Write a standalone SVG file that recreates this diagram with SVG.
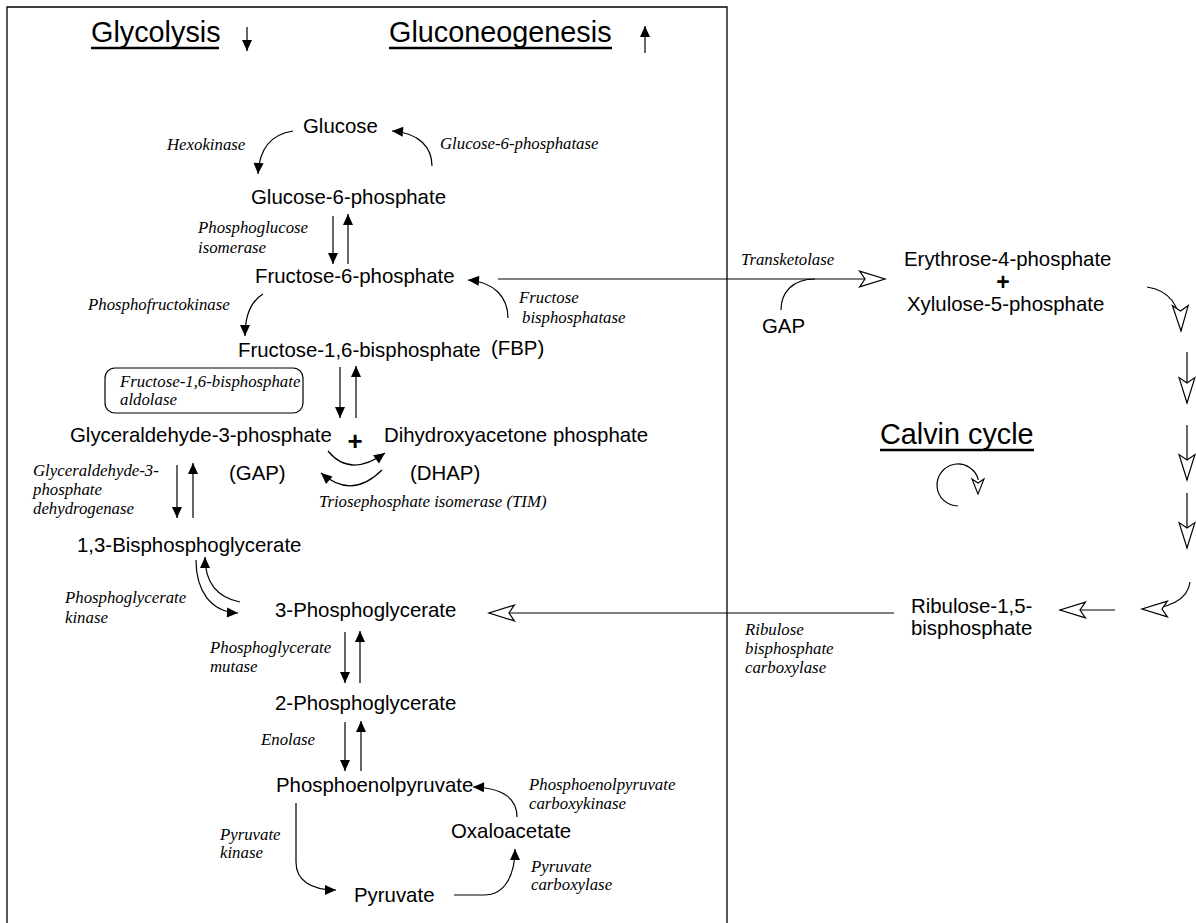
<svg xmlns="http://www.w3.org/2000/svg" width="1196" height="923" viewBox="0 0 1196 923">
<style>
.n{font-family:"Liberation Sans",Arial,sans-serif;font-size:20.4px;fill:#000}
.e{font-family:"Liberation Serif","Times New Roman",serif;font-style:italic;font-size:16.8px;fill:#000}
.t{font-family:"Liberation Sans",Arial,sans-serif;font-size:28.8px;fill:#000}
.p{font-family:"Liberation Sans",Arial,sans-serif;font-size:26px;font-weight:bold;fill:#000}
.c{fill:none;stroke:#000;stroke-width:1.2}
.u{stroke:#000;stroke-width:2.4}
.f{marker-end:url(#fh)}
.h{marker-end:url(#hh)}
</style>
<defs>
<marker id="fh" markerUnits="userSpaceOnUse" markerWidth="12" markerHeight="11" refX="11" refY="5" orient="auto" overflow="visible"><path d="M0,0 L11,5 L0,10 Z" fill="#000"/></marker>
<marker id="hh" markerUnits="userSpaceOnUse" markerWidth="28" markerHeight="19" refX="26" refY="8.5" orient="auto" overflow="visible"><path d="M0.6,0.6 L26,8.5 L0.6,16.4 L6,8.5 Z" fill="#fff" stroke="#000" stroke-width="1.2"/></marker>
</defs>
<rect width="1196" height="923" fill="#fff"/>
<path d="M7,930 V7 H727 V930" fill="none" stroke="#000" stroke-width="1.3"/>

<g id="titles">
<g id="title-glycolysis"><text class="t" x="91" y="42">Glycolysis</text><line class="u" x1="91" y1="48" x2="219" y2="48"/></g>
<g id="title-gluconeogenesis"><text class="t" x="389" y="42">Gluconeogenesis</text><line class="u" x1="389" y1="48" x2="612" y2="48"/></g>
<g id="title-calvin"><text class="t" x="880" y="444">Calvin cycle</text><line class="u" x1="880" y1="450" x2="1034" y2="450"/></g>
</g>

<g id="nodes">
<g id="glucose"><text class="n" x="303" y="133">Glucose</text></g>
<g id="g6p"><text class="n" x="251" y="204">Glucose-6-phosphate</text></g>
<g id="f6p"><text class="n" x="255" y="283">Fructose-6-phosphate</text></g>
<g id="fbp"><text class="n" x="238" y="357">Fructose-1,6-bisphosphate</text><text class="n" x="491" y="355">(FBP)</text></g>
<g id="gap"><text class="n" x="70" y="442">Glyceraldehyde-3-phosphate</text><text class="n" x="229" y="480">(GAP)</text></g>
<g id="plus1"><text class="p" x="355" y="450" text-anchor="middle">+</text></g>
<g id="dhap"><text class="n" x="384" y="442">Dihydroxyacetone phosphate</text><text class="n" x="410" y="480">(DHAP)</text></g>
<g id="bpg13"><text class="n" x="77" y="552">1,3-Bisphosphoglycerate</text></g>
<g id="pg3"><text class="n" x="275" y="617">3-Phosphoglycerate</text></g>
<g id="pg2"><text class="n" x="275" y="710">2-Phosphoglycerate</text></g>
<g id="pep"><text class="n" x="276" y="792">Phosphoenolpyruvate</text></g>
<g id="oaa"><text class="n" x="451" y="838">Oxaloacetate</text></g>
<g id="pyruvate"><text class="n" x="354" y="902">Pyruvate</text></g>
<g id="gap2"><text class="n" x="762" y="333">GAP</text></g>
<g id="e4p-x5p"><text class="n" x="904" y="266">Erythrose-4-phosphate</text><text class="p" x="1003" y="290" text-anchor="middle" style="font-size:23px">+</text><text class="n" x="907" y="311">Xylulose-5-phosphate</text></g>
<g id="rubp"><text class="n" x="911" y="613">Ribulose-1,5-</text><text class="n" x="911" y="635">bisphosphate</text></g>
</g>

<g id="enzymes">
<g id="e-hexokinase"><text class="e" x="167" y="150">Hexokinase</text></g>
<g id="e-g6pase"><text class="e" x="440" y="149">Glucose-6-phosphatase</text></g>
<g id="e-pgi"><text class="e" x="198" y="233">Phosphoglucose</text><text class="e" x="198" y="253">isomerase</text></g>
<g id="e-pfk"><text class="e" x="88" y="310">Phosphofructokinase</text></g>
<g id="e-fbpase"><text class="e" x="519" y="303">Fructose</text><text class="e" x="522" y="323">bisphosphatase</text></g>
<g id="e-aldolase"><rect x="105" y="368" width="198" height="45" rx="10" fill="none" stroke="#000" stroke-width="1.2"/><text class="e" x="120" y="387">Fructose-1,6-bisphosphate</text><text class="e" x="120" y="405">aldolase</text></g>
<g id="e-gapdh"><text class="e" x="33" y="476">Glyceraldehyde-3-</text><text class="e" x="33" y="495">phosphate</text><text class="e" x="33" y="514">dehydrogenase</text></g>
<g id="e-tim"><text class="e" x="319" y="507">Triosephosphate isomerase (TIM)</text></g>
<g id="e-pgk"><text class="e" x="65" y="603">Phosphoglycerate</text><text class="e" x="65" y="623">kinase</text></g>
<g id="e-pgm"><text class="e" x="210" y="653">Phosphoglycerate</text><text class="e" x="210" y="672">mutase</text></g>
<g id="e-enolase"><text class="e" x="261" y="745">Enolase</text></g>
<g id="e-pepck"><text class="e" x="529" y="790">Phosphoenolpyruvate</text><text class="e" x="529" y="809">carboxykinase</text></g>
<g id="e-pk"><text class="e" x="220" y="840">Pyruvate</text><text class="e" x="220" y="858">kinase</text></g>
<g id="e-pc"><text class="e" x="531" y="872">Pyruvate</text><text class="e" x="531" y="890">carboxylase</text></g>
<g id="e-transketolase"><text class="e" x="741" y="265">Transketolase</text></g>
<g id="e-rubisco"><text class="e" x="745" y="635">Ribulose</text><text class="e" x="745" y="654">bisphosphate</text><text class="e" x="745" y="673">carboxylase</text></g>
</g>

<g id="connectors">
<path class="c f" d="M247,27 V51"/>
<path class="c f" d="M645,53 V26"/>
<path class="c f" d="M293,131 Q260,136 258,174"/>
<path class="c f" d="M432,166 C432,148 420,133 392,131"/>
<path class="c f" d="M333,216 V264"/>
<path class="c f" d="M348,264 V214"/>
<path class="c f" d="M263,294 Q245,305 245,336"/>
<path class="c f" d="M508,318 C508,298 495,282 468,280"/>
<path class="c f" d="M340,367 V418"/>
<path class="c f" d="M356,418 V366"/>
<path class="c f" d="M328,451 Q350,478 385,453"/>
<path class="c f" d="M382,470 Q352,500 321,473"/>
<path class="c f" d="M177,465 V518"/>
<path class="c f" d="M193,518 V463"/>
<path class="c f" d="M196,560 C196,590 210,612 238,613"/>
<path class="c f" d="M240,602 C215,597 205,580 205,557"/>
<path class="c f" d="M345,632 V683"/>
<path class="c f" d="M360,683 V631"/>
<path class="c f" d="M345,722 V771"/>
<path class="c f" d="M361,771 V721"/>
<path class="c f" d="M296,803 L296,862 C296,880 310,890 336,890"/>
<path class="c f" d="M454,895 L484,895 C505,895 515,875 515,849"/>
<path class="c f" d="M517,817 C517,800 505,788 473,787"/>
<path class="c h" d="M498,279 H885"/>
<path class="c" d="M781,310 C781,292 793,279 815,279"/>
<path class="c h" d="M1147,287 Q1180,292 1181,331"/>
<path class="c h" d="M1187,352 V403"/>
<path class="c h" d="M1187,425 V480"/>
<path class="c h" d="M1187,493 V548"/>
<path class="c h" d="M1190,582 C1188,600 1168,609 1142,609"/>
<path class="c h" d="M1115,610 H1060"/>
<path class="c h" d="M894,613 H489"/>
<g id="calvin-icon"><path class="c" d="M958,506 A21,21 0 1 1 978.4,479.9"/><path d="M972,479 L978,494 L984,479 L978,483 Z" fill="#fff" stroke="#000" stroke-width="1.1"/></g>
</g>
</svg>
